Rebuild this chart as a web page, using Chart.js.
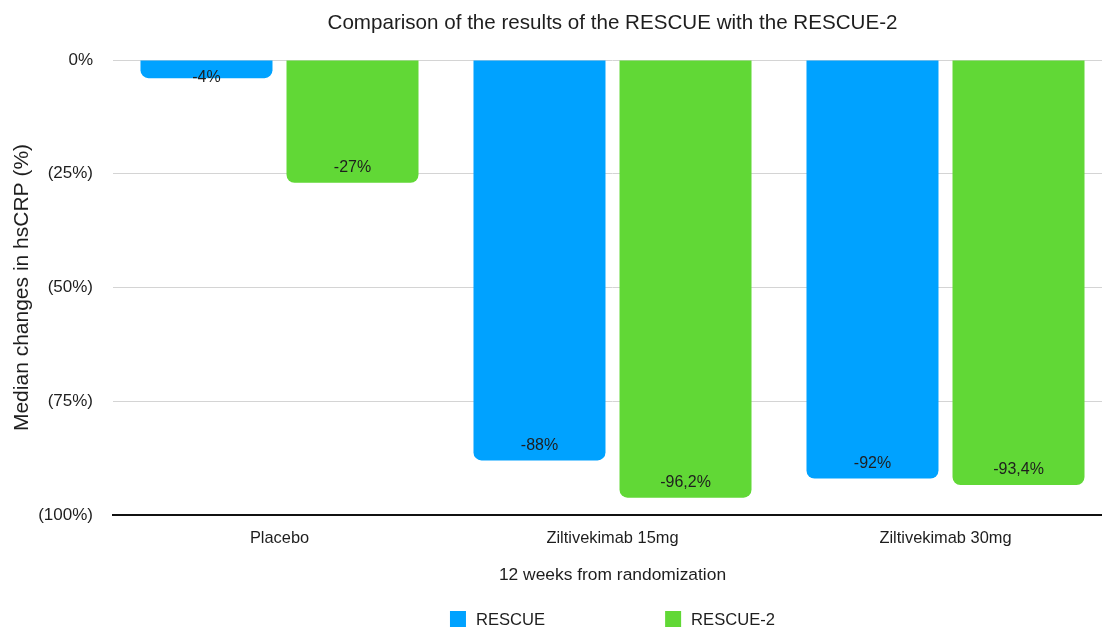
<!DOCTYPE html>
<html>
<head>
<meta charset="utf-8">
<script src="https://cdn.jsdelivr.net/npm/chart.js@4/dist/chart.umd.min.js"></script>
<style>
  html, body { margin: 0; padding: 0; background: #fff; overflow: hidden; }
  #wrap { width: 1112px; height: 632px; position: relative; }
</style>
</head>
<body>
<div id="wrap"><canvas id="c"></canvas></div>
<script>
const categories = ['Placebo', 'Ziltivekimab 15mg', 'Ziltivekimab 30mg'];
const seriesNames = ['RESCUE', 'RESCUE-2'];
const rescueValues = [-4, -88, -92];
const rescue2Values = [-27, -96.2, -93.4];
const rescueLabels = ['-4%', '-88%', '-92%'];
const rescue2Labels = ['-27%', '-96,2%', '-93,4%'];
const yTickValues = [0, -25, -50, -75, -100];
const yTickLabels = ['0%', '(25%)', '(50%)', '(75%)', '(100%)'];
const chartTitle = 'Comparison of the results of the RESCUE with the RESCUE-2';
const yTitle = 'Median changes in hsCRP (%)';
const xTitle = '12 weeks from randomization';

const FONT = '"Liberation Sans", Arial, Helvetica, sans-serif';
const TEXT = '#1e1e1e';
const colors = ['#00A2FF', '#61D836'];
const valueLabels = [rescueLabels, rescue2Labels];

const extrasPlugin = {
  id: 'extras',
  afterDatasetsDraw(chart) {
    const ctx = chart.ctx;
    ctx.save();
    ctx.font = '16px ' + FONT;
    ctx.fillStyle = TEXT;
    ctx.textAlign = 'center';
    ctx.textBaseline = 'middle';
    chart.data.datasets.forEach((ds, di) => {
      const meta = chart.getDatasetMeta(di);
      meta.data.forEach((bar, i) => {
        const y = Math.max(bar.base + 17, bar.y - 15);
        ctx.fillText(valueLabels[di][i], bar.x, y);
      });
    });
    ctx.restore();
  },
  afterDraw(chart) {
    const ctx = chart.ctx;
    const area = chart.chartArea;
    const cx = (area.left + area.right) / 2;
    ctx.save();
    // title
    ctx.font = '20.6px ' + FONT;
    ctx.fillStyle = TEXT;
    ctx.textAlign = 'center';
    ctx.textBaseline = 'middle';
    ctx.fillText(chartTitle, cx, 23);
    // legend
    ctx.font = '16.6px ' + FONT;
    const box = 16, gapText = 10, gapItem = 120;
    const w0 = ctx.measureText(seriesNames[0]).width;
    const w1 = ctx.measureText(seriesNames[1]).width;
    const total = box + gapText + w0 + gapItem + box + gapText + w1;
    let x = cx - total / 2;
    const ly = 619;
    ctx.textAlign = 'left';
    [0, 1].forEach(k => {
      ctx.fillStyle = colors[k];
      ctx.fillRect(x, ly - box / 2, box, box);
      ctx.fillStyle = TEXT;
      ctx.fillText(seriesNames[k], x + box + gapText, ly + 1);
      x += box + gapText + (k === 0 ? w0 : w1) + gapItem;
    });
    ctx.restore();
  }
};

new Chart(document.getElementById('c'), {
  type: 'bar',
  data: {
    labels: categories,
    datasets: [
      { label: seriesNames[0], data: rescueValues, backgroundColor: colors[0], borderRadius: 8, borderSkipped: 'start' },
      { label: seriesNames[1], data: rescue2Values, backgroundColor: colors[1], borderRadius: 8, borderSkipped: 'start' }
    ]
  },
  options: {
    responsive: true,
    maintainAspectRatio: false,
    animation: false,
    datasets: { bar: { categoryPercentage: 0.877, barPercentage: 0.904 } },
    layout: { padding: { top: 60, bottom: 35, left: 0, right: 0 } },
    plugins: {
      legend: { display: false },
      title: { display: false },
      tooltip: { enabled: false }
    },
    scales: {
      x: {
        grid: { display: false, drawTicks: false },
        border: { display: true, color: '#111', width: 2 },
        ticks: { color: TEXT, font: { family: FONT, size: 16.4 }, padding: 14 },
        title: { display: true, text: xTitle, color: TEXT, font: { family: FONT, size: 17.4 }, padding: { top: 4, bottom: 11 } },
        afterFit(s) { s.height = 82; }
      },
      y: {
        min: -100,
        max: 0,
        afterBuildTicks(s) { s.ticks = yTickValues.map(v => ({ value: v })); },
        grid: {
          drawTicks: false,
          color: ctx => (ctx.tick && ctx.tick.value === -100) ? 'rgba(0,0,0,0)' : '#d4d4d4',
          lineWidth: 1
        },
        border: { display: false },
        ticks: {
          color: TEXT,
          font: { family: FONT, size: 17 },
          padding: 20,
          callback: (v) => yTickLabels[yTickValues.indexOf(v)]
        },
        title: { display: true, text: yTitle, color: TEXT, font: { family: FONT, size: 21 }, padding: { top: 10, bottom: 0 } },
        afterFit(s) { s.width = 113; }
      }
    }
  },
  plugins: [extrasPlugin]
});
</script>
</body>
</html>
